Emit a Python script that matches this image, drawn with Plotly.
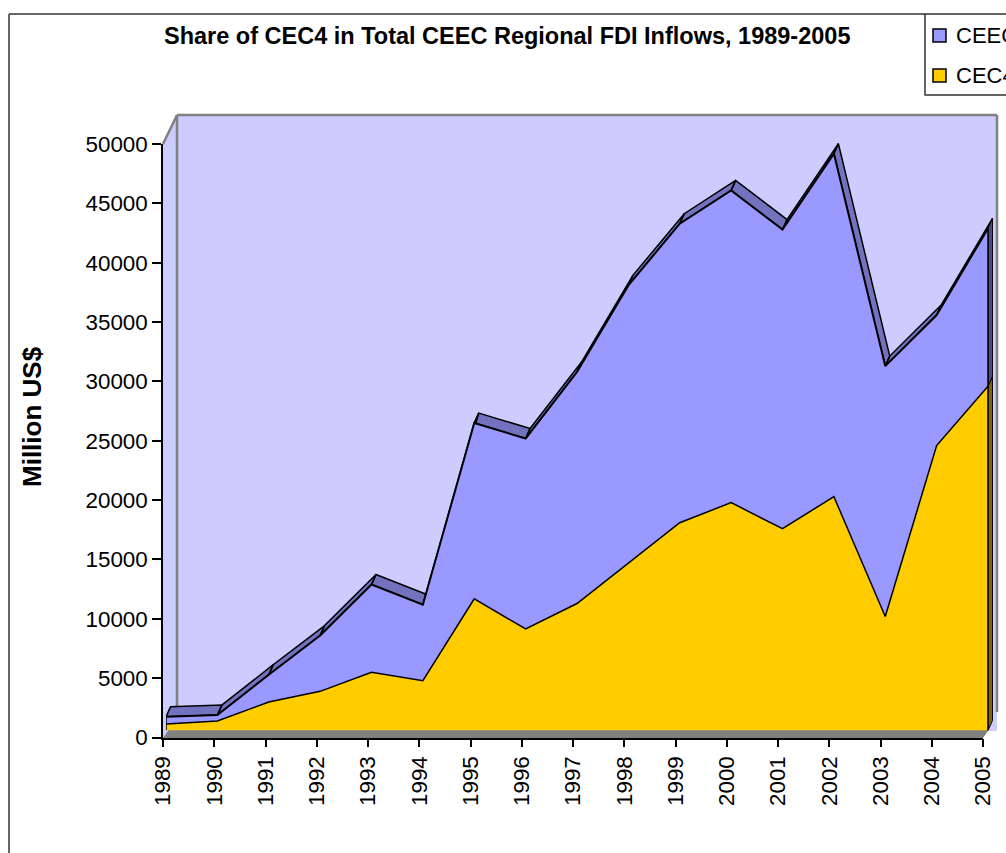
import plotly.graph_objects as go

# ---------------- data ----------------
years = [1989, 1990, 1991, 1992, 1993, 1994, 1995, 1996, 1997,
         1998, 1999, 2000, 2001, 2002, 2003, 2004, 2005]
cec4 = [550, 800, 2400, 3300, 4900, 4200, 11100, 8550, 10700,
        14100, 17500, 19200, 17000, 19700, 9600, 24000, 29000]
ceec_other = [600, 500, 2300, 4700, 7400, 6400, 14800, 16050, 19500,
              23400, 25200, 26300, 25200, 28900, 21100, 11000, 13300]
year_labels = [str(y) for y in years]
y_ticks = list(range(0, 50001, 5000))
series_names = ["CEEC", "CEC4"]
title_text = "Share of CEC4 in Total CEEC Regional FDI Inflows, 1989-2005"
y_title = "Million US$"

# ---------------- styling / geometry ----------------
W, H = 1006, 853
FONT = "Arial"
C_WALL = "#CCCCFF"
C_BLUE = "#9999FF"
C_BLUE_TOP = "#7272BF"
C_BLUE_SIDE = "#4C4C80"
C_YEL = "#FFCC00"
C_YEL_SIDE = "#7F6600"
C_GRAY = "#808080"


def fx(px):
    return px / W


def fy(py):
    return 1 - py / H


# front (axis) plane pixel positions
AX_L, AX_R = 163, 983          # 1989 .. 2005
AX_B, AX_T = 737.5, 144        # 0 .. 50000
YPX = (AX_B - AX_T) / 50000.0  # px per unit
# series front plane (slightly behind axis plane)
S_L, S_R = 166, 988
S_B = 730.5
XPX = (S_R - S_L) / 16.0
X_EXT = 0.3
Y_TOP2 = 55000
# depth of the series (top strip offset)
DX_PX, DY_PX = 4.5, 10.0
dx = DX_PX / XPX
dy = DY_PX / YPX

total = [a + b for a, b in zip(cec4, ceec_other)]

fig = go.Figure()

# top strip of the 3-D area (drawn first, partially hidden by front face)
sx, sy = [], []
for i in range(len(years) - 1):
    x0, x1 = years[i], years[i + 1]
    t0, t1 = total[i], total[i + 1]
    sx += [x0, x1, x1 + dx, x0 + dx, x0, None]
    sy += [t0, t1, t1 + dy, t0 + dy, t0, None]
fig.add_trace(go.Scatter(x=sx, y=sy, xaxis="x2", yaxis="y2", mode="lines",
                         fill="toself", fillcolor=C_BLUE_TOP,
                         line=dict(color="black", width=1.5),
                         hoverinfo="skip", showlegend=False))

# right side faces at the last year
xe = years[-1]
fig.add_trace(go.Scatter(
    x=[xe, xe, xe + dx, xe + dx, xe],
    y=[0, cec4[-1], cec4[-1] + dy, dy, 0],
    xaxis="x2", yaxis="y2", mode="lines", fill="toself",
    fillcolor=C_YEL_SIDE, line=dict(color="black", width=1),
    hoverinfo="skip", showlegend=False))
fig.add_trace(go.Scatter(
    x=[xe, xe, xe + dx, xe + dx, xe],
    y=[cec4[-1], total[-1], total[-1] + dy, cec4[-1] + dy, cec4[-1]],
    xaxis="x2", yaxis="y2", mode="lines", fill="toself",
    fillcolor=C_BLUE_SIDE, line=dict(color="black", width=1),
    hoverinfo="skip", showlegend=False))

# stacked front faces
fig.add_trace(go.Scatter(x=years, y=cec4, name=series_names[1],
                         xaxis="x2", yaxis="y2", mode="lines",
                         stackgroup="one", fillcolor=C_YEL,
                         line=dict(color="black", width=1.5),
                         showlegend=False))
fig.add_trace(go.Scatter(x=years, y=ceec_other, name=series_names[0],
                         xaxis="x2", yaxis="y2", mode="lines",
                         stackgroup="one", fillcolor=C_BLUE,
                         line=dict(color="black", width=2),
                         showlegend=False))
# vertical front edges at both ends
fig.add_trace(go.Scatter(x=[years[0], years[0], None, years[-1], years[-1]],
                         y=[0, total[0], None, 0, total[-1]],
                         xaxis="x2", yaxis="y2", mode="lines",
                         line=dict(color="black", width=1.5),
                         hoverinfo="skip", showlegend=False))

# dummy trace to activate main axes
fig.add_trace(go.Scatter(x=[years[0]], y=[0], mode="markers",
                         marker=dict(opacity=0), hoverinfo="skip",
                         showlegend=False))

shapes = []
# walls
shapes.append(dict(type="path", xref="paper", yref="paper", layer="below",
                   path=f"M {fx(163)} {fy(144)} L {fx(177)} {fy(115)} L {fx(177)} {fy(731)} L {fx(163)} {fy(738)} Z",
                   fillcolor=C_WALL, line=dict(width=0)))
shapes.append(dict(type="rect", xref="paper", yref="paper", layer="below",
                   x0=fx(177), x1=fx(997), y0=fy(731), y1=fy(115),
                   fillcolor=C_WALL, line=dict(width=0)))
# floor
shapes.append(dict(type="path", xref="paper", yref="paper", layer="below",
                   path=f"M {fx(163)} {fy(738)} L {fx(983)} {fy(738)} L {fx(989)} {fy(729.5)} L {fx(169)} {fy(729.5)} Z",
                   fillcolor=C_GRAY, line=dict(width=0)))
# wall edges
for (a, b, c, d) in [(163, 144, 177, 115), (177, 115, 997, 115),
                     (177, 115, 177, 731), (997, 115, 997, 712)]:
    shapes.append(dict(type="line", xref="paper", yref="paper", layer="below",
                       x0=fx(a), y0=fy(b), x1=fx(c), y1=fy(d),
                       line=dict(color=C_GRAY, width=2.5)))
# chart border
shapes.append(dict(type="line", xref="paper", yref="paper",
                   x0=fx(9), y0=fy(14), x1=fx(925), y1=fy(14),
                   line=dict(color="#333333", width=1.5)))
shapes.append(dict(type="line", xref="paper", yref="paper",
                   x0=fx(9), y0=fy(14), x1=fx(9), y1=fy(860),
                   line=dict(color="#333333", width=1.5)))
# legend box and swatches
shapes.append(dict(type="rect", xref="paper", yref="paper",
                   x0=fx(925), x1=fx(1012), y0=fy(95), y1=fy(14),
                   fillcolor="white", line=dict(color="#333333", width=1.5)))
legend_colors = [C_BLUE, C_YEL]
legend_y = [35.5, 75.5]
annotations = []
for name, col, ly in zip(series_names, legend_colors, legend_y):
    shapes.append(dict(type="rect", xref="paper", yref="paper",
                       x0=fx(933), x1=fx(946), y0=fy(ly + 6.5), y1=fy(ly - 6.5),
                       fillcolor=col, line=dict(color="black", width=1.5)))
    annotations.append(dict(text=name, xref="paper", yref="paper",
                            x=fx(954), y=fy(ly), xanchor="left", yanchor="middle",
                            showarrow=False,
                            font=dict(family=FONT, size=22, color="black")))

annotations.append(dict(text=f"<b>{title_text}</b>", xref="paper", yref="paper",
                        x=fx(507), y=fy(36), xanchor="center", yanchor="middle",
                        showarrow=False,
                        font=dict(family=FONT, size=23.5, color="black")))
annotations.append(dict(text=f"<b>{y_title}</b>", xref="paper", yref="paper",
                        x=fx(32), y=fy(417), xanchor="center", yanchor="middle",
                        textangle=-90, showarrow=False,
                        font=dict(family=FONT, size=26, color="black")))

fig.update_layout(
    width=W, height=H, autosize=False,
    margin=dict(l=0, r=0, t=0, b=0, autoexpand=False),
    paper_bgcolor="white", plot_bgcolor="rgba(0,0,0,0)",
    showlegend=False, shapes=shapes, annotations=annotations,
    font=dict(family=FONT, color="black"),
    xaxis=dict(domain=[fx(AX_L), fx(AX_R)], range=[1989, 2005],
               tickmode="array", tickvals=years, ticktext=year_labels,
               tickangle=-90, ticks="outside", ticklen=8, tickcolor="black",
               tickwidth=1.5, showline=True, linecolor="black", linewidth=1.5,
               showgrid=False, zeroline=False,
               tickfont=dict(family=FONT, size=22.4, color="black"),
               anchor="y", fixedrange=True),
    yaxis=dict(domain=[fy(AX_B), fy(AX_T)], range=[0, 50000],
               tickmode="array", tickvals=y_ticks,
               ticktext=[str(v) for v in y_ticks],
               ticks="outside", ticklen=9, tickcolor="black", tickwidth=1.5,
               showline=True, linecolor="black", linewidth=1.5,
               showgrid=False, zeroline=False,
               tickfont=dict(family=FONT, size=22.4, color="black"),
               anchor="x", fixedrange=True),
    xaxis2=dict(domain=[fx(S_L), fx(S_R + X_EXT * XPX)],
                range=[1989, 2005 + X_EXT], visible=False, anchor="y2",
                fixedrange=True),
    yaxis2=dict(domain=[fy(S_B), fy(S_B - Y_TOP2 * YPX)],
                range=[0, Y_TOP2], visible=False, anchor="x2",
                fixedrange=True),
)

fig.write_html(
    "out.html",
    config={"displayModeBar": False},
    post_script="document.body.style.margin='0px';document.body.style.padding='0px';document.body.style.overflow='hidden';",
)
